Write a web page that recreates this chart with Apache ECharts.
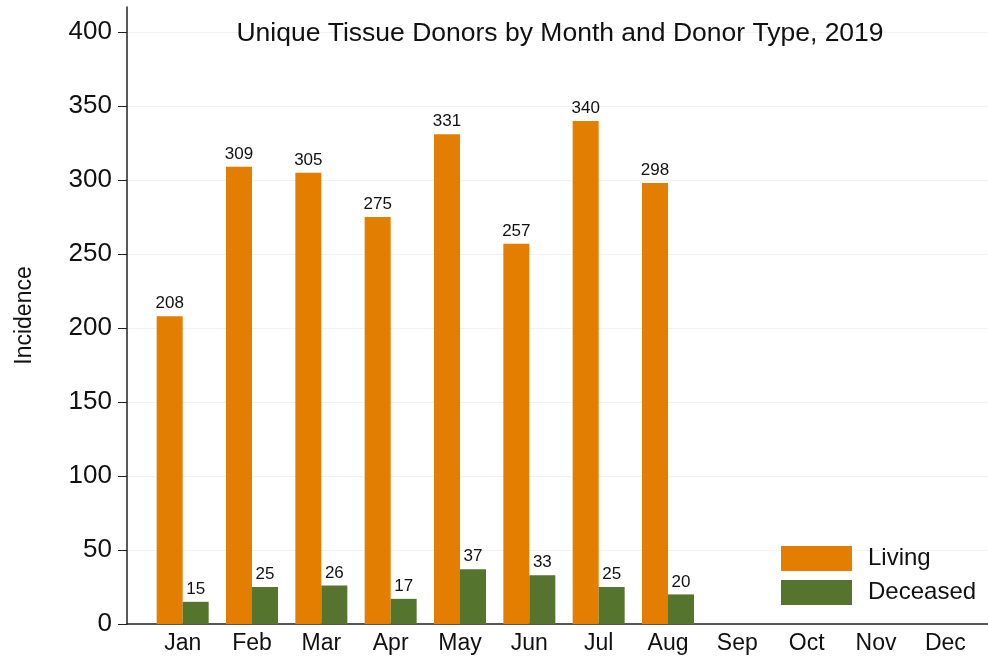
<!DOCTYPE html>
<html>
<head>
<meta charset="utf-8">
<script src="https://cdn.jsdelivr.net/npm/echarts@6/dist/echarts.min.js"></script>
<style>html,body{margin:0;padding:0;background:#fff}#chart{width:988px;height:656px}</style>
</head>
<body>
<div id="chart"></div>
<script>
const months = ['Jan','Feb','Mar','Apr','May','Jun','Jul','Aug','Sep','Oct','Nov','Dec'];
const living = [208, 309, 305, 275, 331, 257, 340, 298, null, null, null, null];
const deceased = [15, 25, 26, 17, 37, 33, 25, 20, null, null, null, null];
const yTicks = [0, 50, 100, 150, 200, 250, 300, 350, 400];
const titleText = 'Unique Tissue Donors by Month and Donor Type, 2019';

const font = 'Liberation Sans, Arial, sans-serif';
const chart = echarts.init(document.getElementById('chart'));
chart.setOption({
  animation: false,
  backgroundColor: '#fff',
  textStyle: { fontFamily: font },
  title: {
    text: titleText,
    left: 560, top: 20, textAlign: 'center', padding: 0,
    textStyle: { fontSize: 26.5, fontWeight: 'normal', color: '#111', fontFamily: font }
  },
  legend: {
    orient: 'vertical',
    left: 781, top: 546, padding: 0,
    itemWidth: 71, itemHeight: 25, itemGap: 9,
    icon: 'rect',
    textStyle: { fontSize: 24, color: '#111', padding: [0, 0, 0, 11] },
    data: ['Living', 'Deceased']
  },
  grid: [
    { left: 127, right: 0, top: 7, bottom: 32 },
    { left: 148, right: 8, top: 7, bottom: 32 }
  ],
  xAxis: [
    { gridIndex: 0, type: 'value', min: 0, max: 1,
      axisLine: { show: true, lineStyle: { color: '#222', width: 1.5 } },
      axisTick: { show: false }, axisLabel: { show: false }, splitLine: { show: false } },
    { gridIndex: 1, type: 'category', data: months,
      axisLine: { show: false }, axisTick: { show: false },
      axisLabel: { fontSize: 23, color: '#111', margin: 8 } }
  ],
  yAxis: [
    { gridIndex: 0, type: 'value', min: 0, max: 417, interval: 50,
      name: 'Incidence', nameLocation: 'middle', nameGap: 91, nameRotate: 90,
      nameTextStyle: { fontSize: 23, color: '#111' },
      axisLine: { show: true, lineStyle: { color: '#222', width: 1.5 } },
      axisTick: { show: true, length: 9, lineStyle: { color: '#222' }, customValues: yTicks },
      axisLabel: { fontSize: 26, color: '#111', margin: 15, customValues: yTicks },
      splitLine: { show: true, lineStyle: { color: '#eef2f2', width: 1 } } },
    { gridIndex: 1, type: 'value', min: 0, max: 417, show: false, splitLine: { show: false } }
  ],
  series: [
    { name: 'Living', type: 'bar', xAxisIndex: 1, yAxisIndex: 1, data: living,
      barGap: '0%', barCategoryGap: '25%',
      itemStyle: { color: '#E37E00' },
      label: { show: true, position: 'top', distance: 4, fontSize: 17, color: '#111' } },
    { name: 'Deceased', type: 'bar', xAxisIndex: 1, yAxisIndex: 1, data: deceased,
      itemStyle: { color: '#55752F' },
      label: { show: true, position: 'top', distance: 4, fontSize: 17, color: '#111' } }
  ]
});
</script>
</body>
</html>
